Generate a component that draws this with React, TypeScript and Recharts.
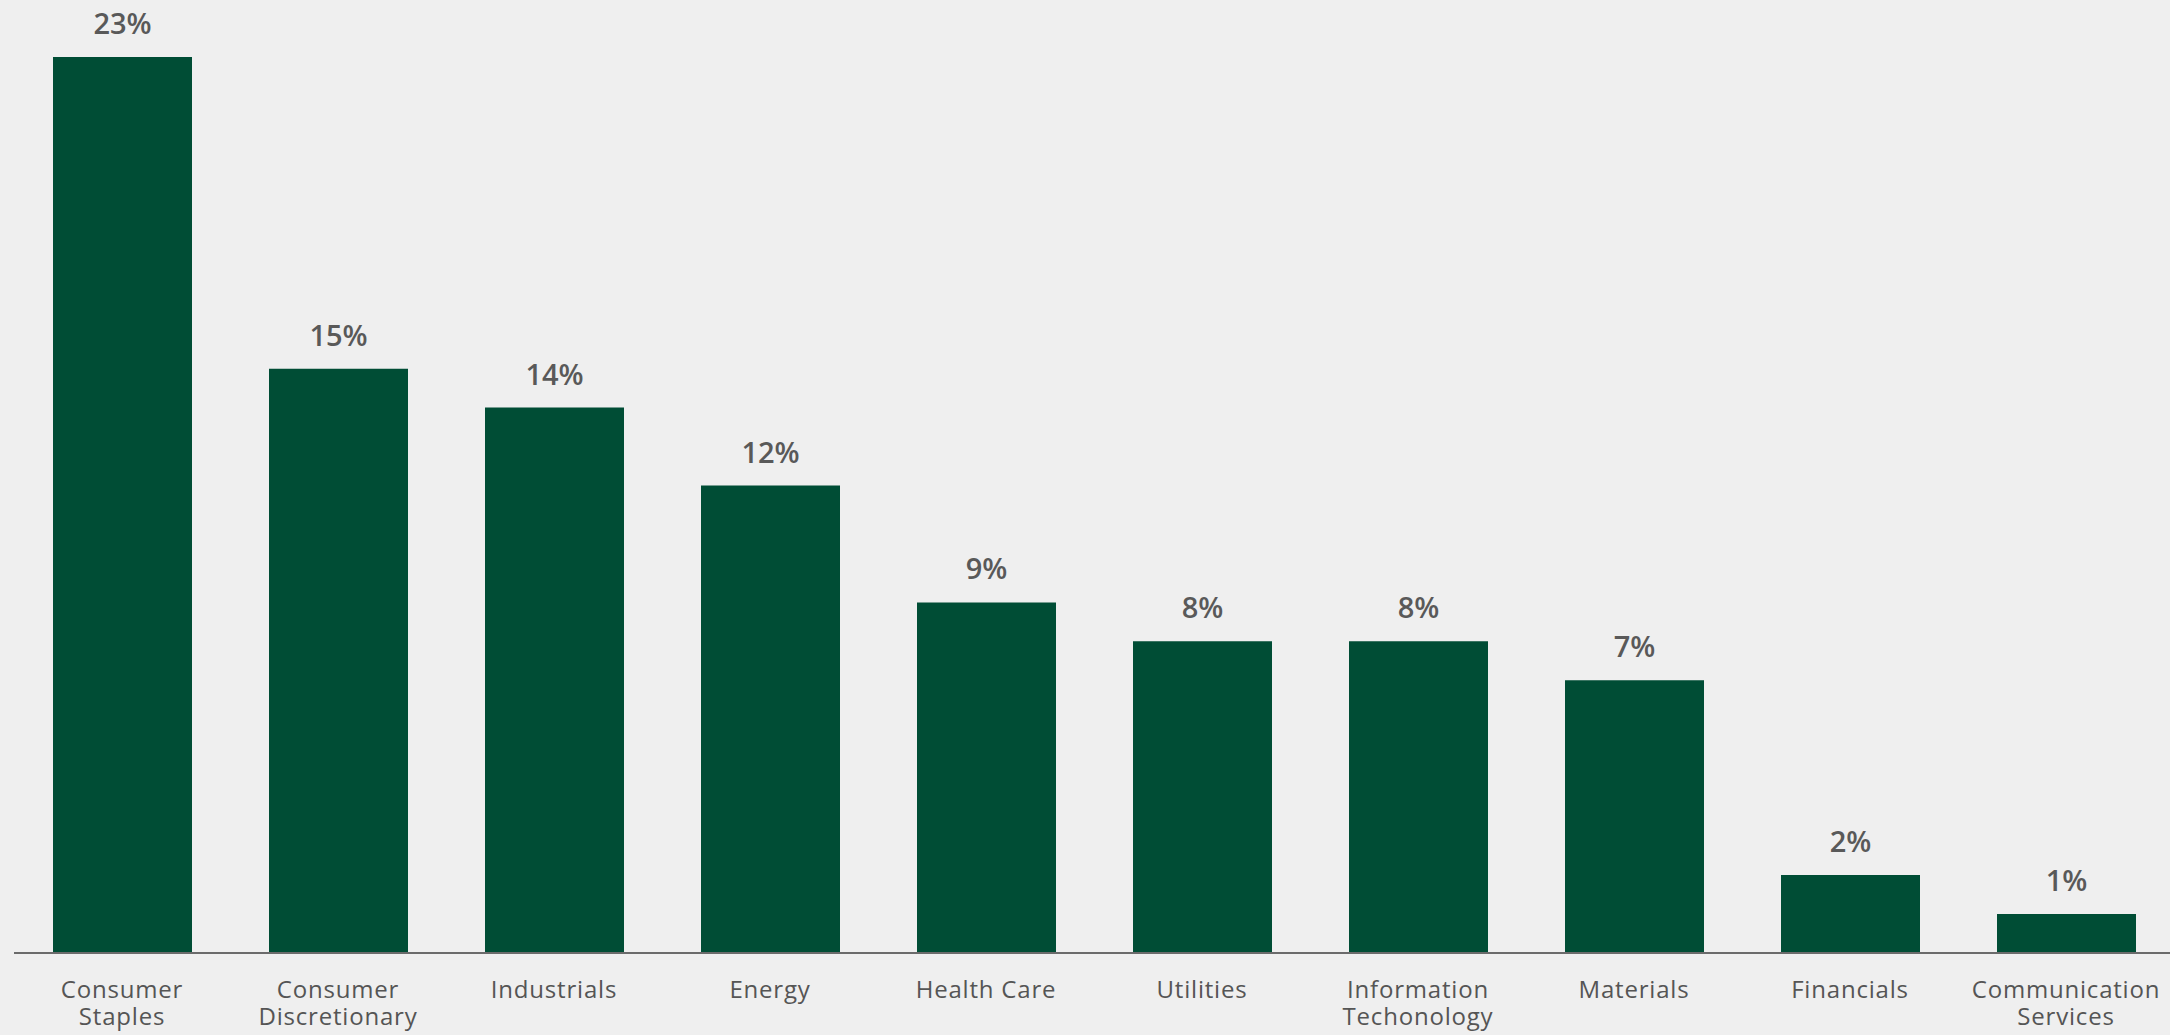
import React from 'react';
import { BarChart, Bar, XAxis, YAxis, LabelList } from 'recharts';

// Sector weights (%)
const sectors = [
  'Consumer\nStaples',
  'Consumer\nDiscretionary',
  'Industrials',
  'Energy',
  'Health Care',
  'Utilities',
  'Information\nTechonology',
  'Materials',
  'Financials',
  'Communication\nServices',
];
const weights = [23, 15, 14, 12, 9, 8, 8, 7, 2, 1];

const data = sectors.map((sector, i) => ({ sector, weight: weights[i] }));

const FONT = '"Open Sans", "Noto Sans", sans-serif';

// Multi-line category tick
const SectorTick = (props: any) => {
  const { x, y, payload } = props;
  const lines = String(payload.value).split('\n');
  return (
    <text
      x={x}
      y={y}
      textAnchor="middle"
      fill="#555555"
      fontSize={24}
      fontFamily={FONT}
      letterSpacing={0.8}
    >
      {lines.map((line, i) => (
        <tspan key={i} x={x} dy={i === 0 ? 45 : 27}>
          {line}
        </tspan>
      ))}
    </text>
  );
};

const App: React.FC = () => {
  return (
    <div
      style={{
        position: 'absolute',
        left: 0,
        top: 0,
        width: 2170,
        height: 1035,
        background: '#efefef',
      }}
    >
      <BarChart
        width={2170}
        height={1035}
        data={data}
        margin={{ top: 57, right: -4, bottom: 0, left: 14 }}
      >
        <XAxis
          dataKey="sector"
          height={82}
          interval={0}
          tickSize={0}
          tickMargin={0}
          tickLine={false}
          axisLine={{ stroke: '#6b6b6b', strokeWidth: 2 }}
          tick={<SectorTick />}
        />
        <YAxis hide domain={[0, 23]} />
        <Bar dataKey="weight" fill="#004d35" barSize={139} isAnimationActive={false}>
          <LabelList
            dataKey="weight"
            position="top"
            offset={23}
            formatter={(v: any) => `${v}%`}
            fill="#595959"
            fontSize={29}
            fontWeight={600}
            fontFamily={FONT}
          />
        </Bar>
      </BarChart>
    </div>
  );
};

export default App;
